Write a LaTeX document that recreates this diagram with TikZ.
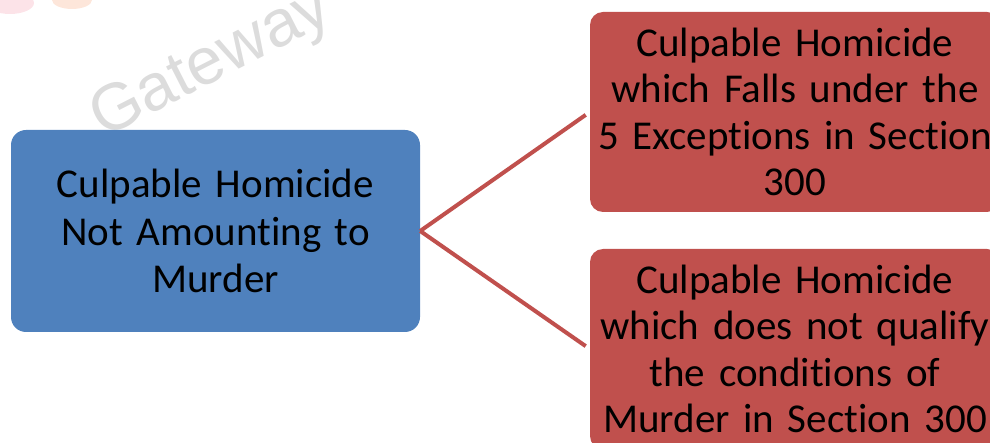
\documentclass[tikz,border=0pt]{standalone}
\usepackage{fontspec}
\setmainfont{Carlito}[Ligatures=NoCommon]
\newfontfamily\wmfont{Liberation Sans}
\definecolor{boxblue}{HTML}{4F81BD}
\definecolor{boxred}{HTML}{C0504D}
\definecolor{wmgray}{HTML}{DCDCDC}
\definecolor{blobpink}{HTML}{FCE3E8}
\definecolor{blobpeach}{HTML}{FDE6DA}
\tikzset{
  bluebox/.style={fill=boxblue, rounded corners=15pt, minimum width=409pt, minimum height=202pt, inner sep=0pt, text width=404pt, align=center, font=\fontsize{41}{47.5}\selectfont},
  redbox/.style={fill=boxred, rounded corners=13pt, minimum width=410pt, minimum height=200pt, inner sep=0pt, text width=406pt, align=center, font=\fontsize{41}{46.5}\selectfont},
  link/.style={draw=boxred, line width=4pt, shorten >=5pt}
}
\begin{document}
\begin{tikzpicture}[x=1pt,y=-1pt]
\useasboundingbox (0,0) rectangle (990,443);
\fill[blobpink] (10,3) ellipse (24pt and 11pt);
\fill[blobpeach] (72,0) ellipse (20pt and 9pt);
\node[font=\wmfont\fontsize{66}{66}\selectfont, text=wmgray, rotate=27, anchor=base west] (wm) at (100,140) {Gateway};
\node[bluebox] (cm) at (215.5,231) {Culpable Homicide\\Not Amounting to\\Murder};
\node[redbox] (e1) at (795,112) {Culpable Homicide\\which Falls under the\\5 Exceptions in Section\\300};
\node[redbox] (e2) at (795,349) {Culpable Homicide\\which does not qualify\\the conditions of\\Murder in Section 300};
\draw[link] (cm.east) -- (e1.west);
\draw[link] (cm.east) -- (e2.west);
\end{tikzpicture}
\end{document}
